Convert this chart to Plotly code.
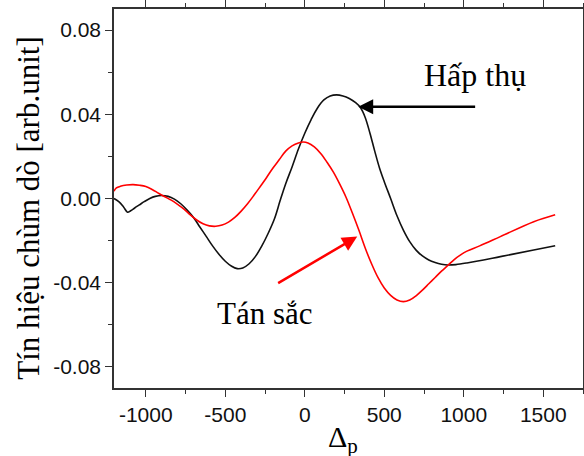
import plotly.graph_objects as go

# Absorption (Hấp thụ) - black curve
abs_x = [-1200, -1170, -1140, -1115, -1095, -1070, -1040, -1010, -975, -940, -900, -860,
         -820, -780, -740, -700, -660, -620, -580, -540, -500, -460, -425, -390, -350,
         -310, -270, -230, -190, -155, -120, -80, -40, 0, 40, 80, 120, 160, 200, 240,
         280, 320, 350, 380, 410, 440, 470, 500, 540, 580, 620, 660, 700, 740, 780, 820,
         860, 900, 950, 1020, 1230, 1440, 1575]
abs_y = [0.000, -0.0015, -0.004, -0.0065, -0.0058, -0.0045, -0.003, -0.0015, 0.0000,
         0.0010, 0.0014, 0.0010, -0.0003, -0.0025, -0.0055, -0.0090, -0.0135, -0.0180,
         -0.0225, -0.0265, -0.0298, -0.0322, -0.0333, -0.0330, -0.0310, -0.0275, -0.0225,
         -0.0165, -0.0095, -0.0010, 0.0070, 0.0150, 0.0235, 0.0310, 0.0375, 0.0430,
         0.0468, 0.0487, 0.0492, 0.0487, 0.0475, 0.0455, 0.0432, 0.0385, 0.0310, 0.0225,
         0.0145, 0.0080, 0.0000, -0.0082, -0.0150, -0.0205, -0.0245, -0.0273, -0.0292,
         -0.0304, -0.0312, -0.0316, -0.0314, -0.0306, -0.0276, -0.0245, -0.0224]

# Dispersion (Tán sắc) - red curve
disp_x = [-1200, -1185, -1160, -1120, -1080, -1040, -1000, -960, -920, -880, -840, -800,
          -760, -720, -680, -640, -600, -560, -520, -480, -440, -400, -360, -320, -280,
          -240, -200, -160, -120, -80, -40, -10, 20, 60, 100, 140, 180, 220, 260, 300,
          340, 380, 420, 460, 500, 540, 580, 620, 660, 700, 740, 780, 820, 860, 900, 940,
          980, 1020, 1100, 1230, 1440, 1575]
disp_y = [0.0035, 0.0050, 0.0058, 0.0064, 0.0066, 0.0063, 0.0057, 0.0043, 0.0025, 0.0008,
          -0.0008, -0.0028, -0.0050, -0.0078, -0.0102, -0.0120, -0.0130, -0.0132, -0.0126,
          -0.0112, -0.0090, -0.0060, -0.0025, 0.0015, 0.0057, 0.0100, 0.0145, 0.0185,
          0.0225, 0.0250, 0.0264, 0.0268, 0.0264, 0.0245, 0.0214, 0.0172, 0.0125, 0.0068,
          0.0005, -0.0070, -0.0150, -0.0235, -0.0310, -0.0375, -0.0425, -0.0460, -0.0482,
          -0.0490, -0.0482, -0.0462, -0.0435, -0.0405, -0.0375, -0.0345, -0.0318, -0.0290,
          -0.0268, -0.0250, -0.0225, -0.0181, -0.0110, -0.0077]

x_tick_vals = [-1000, -500, 0, 500, 1000, 1500]
x_tick_text = ["-1000", "-500", "0", "500", "1000", "1500"]
y_tick_vals = [-0.08, -0.04, 0.0, 0.04, 0.08]
y_tick_text = ["-0.08", "-0.04", "0.00", "0.04", "0.08"]

serif = "Liberation Serif, Times New Roman, serif"
sans = "Liberation Sans, Arial, sans-serif"

fig = go.Figure()
fig.add_trace(go.Scatter(x=abs_x, y=abs_y, mode="lines",
                         line=dict(color="#111111", width=1.6, shape="spline", smoothing=1.0),
                         showlegend=False))
fig.add_trace(go.Scatter(x=disp_x, y=disp_y, mode="lines",
                         line=dict(color="#ff0000", width=1.6, shape="spline", smoothing=1.0),
                         showlegend=False))

axis_common = dict(showline=True, linecolor="#333333", linewidth=1.5, mirror="ticks",
                   ticks="outside", ticklen=7, tickwidth=1.3, tickcolor="#333333",
                   showgrid=False, zeroline=False, automargin=False,
                   tickfont=dict(family=sans, size=21, color="#111111"))

fig.update_xaxes(range=[-1200, 1750], tickvals=x_tick_vals, ticktext=x_tick_text,
                 minor=dict(dtick=250, tick0=0, ticklen=4, ticks="outside", tickcolor="#333333"),
                 **axis_common)
fig.update_yaxes(range=[-0.09, 0.09], tickvals=y_tick_vals, ticktext=y_tick_text,
                 minor=dict(dtick=0.02, tick0=0, ticklen=4, ticks="outside", tickcolor="#333333"),
                 **axis_common)

annotations = [
    dict(text="Tín hiệu chùm dò [arb.unit]", xref="paper", yref="paper", x=-0.183, y=0.476,
         xanchor="center", yanchor="middle", textangle=-90, showarrow=False,
         font=dict(family=serif, size=31, color="#000000")),
    dict(text="Δ<sub>p</sub>", xref="paper", yref="paper", x=0.488, y=-0.135,
         xanchor="center", yanchor="middle", showarrow=False,
         font=dict(family=serif, size=30, color="#000000")),
    dict(text="Hấp thụ", x=1071, y=0.0587, xanchor="center", yanchor="middle", showarrow=False,
         font=dict(family=serif, size=32, color="#000000")),
    dict(text="Tán sắc", x=-250, y=-0.0544, xanchor="center", yanchor="middle", showarrow=False,
         font=dict(family=serif, size=31, color="#000000")),
    dict(text="", x=336, y=0.0436, ax=1081, ay=0.0436, axref="x", ayref="y",
         showarrow=True, arrowhead=2, arrowsize=1.2, arrowwidth=2.5, arrowcolor="#000000"),
    dict(text="", x=330, y=-0.0181, ax=-177, ay=-0.0406, axref="x", ayref="y",
         showarrow=True, arrowhead=2, arrowsize=1.2, arrowwidth=2.5, arrowcolor="#ff0000"),
]

fig.update_layout(width=584, height=456,
                  margin=dict(l=114, r=1, t=9, b=68, autoexpand=False),
                  plot_bgcolor="white", paper_bgcolor="white", annotations=annotations)

fig.write_html("out.html", config={"displayModeBar": False},
               post_script="document.body.style.margin='0';document.body.style.overflow='hidden';")
